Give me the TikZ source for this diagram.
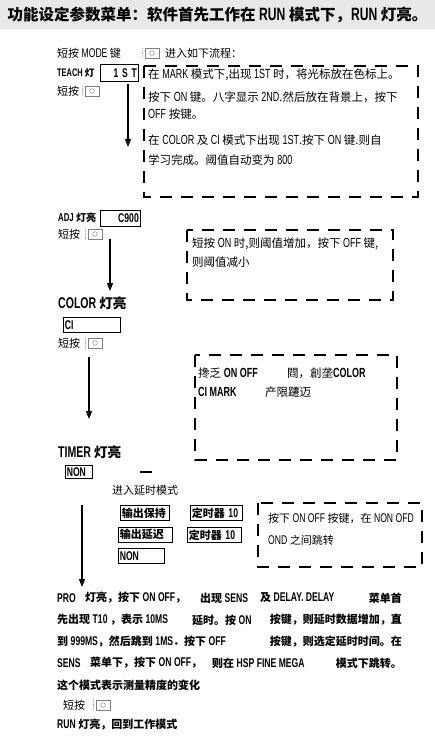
\documentclass[tikz,border=0pt]{standalone}
\usepackage{fontspec}
\setmainfont{Noto Sans CJK SC}
\newfontfamily\narfont{Liberation Sans}[FakeStretch=0.68, Scale=1.15]
\newcommand{\nar}[1]{{\narfont #1}}
\usetikzlibrary{arrows.meta}

\begin{document}
\begin{tikzpicture}[
        x=1pt, y=-1pt,
        txt/.style={anchor=west, inner sep=0pt, font=\fontsize{11.5}{13}\selectfont},
        lbl/.style={anchor=west, inner sep=0pt, font=\fontsize{11}{13}\selectfont},
        par/.style={anchor=west, inner sep=0pt, font=\fontsize{11}{13}\selectfont\bfseries},
        state/.style={anchor=west, inner sep=0pt, font=\fontsize{13.5}{15}\selectfont\bfseries},
        small/.style={anchor=west, inner sep=0pt, font=\fontsize{9.5}{11}\selectfont\bfseries},
        valbox/.style={draw, line width=0.6pt, inner sep=1.5pt, anchor=north west,
            font=\fontsize{11}{12}\selectfont\bfseries},
        dbox/.style={line width=2.6pt, dash pattern=on 12pt off 9pt},
        flow/.style={-{Triangle[length=8pt,width=6pt]}, line width=1.1pt},
        btn/.pic={
            \draw[gray!60, densely dotted, line width=0.8pt] (-3,-5) -- (-3,5);
            \draw[gray, line width=0.5pt] (0,-5) rectangle (14,5);
            \draw[gray, line width=0.4pt] (7,0) circle (2.3);
        },
    ]
    \useasboundingbox (0,0) rectangle (435,751);

    % Title band
    \fill[gray!18] (0,0) rectangle (435,29);
    \node[inner sep=0pt, font=\fontsize{15.5}{17}\selectfont\bfseries] (title) at (217.5,15)
        {功能设定参数菜单：软件首先工作在 \nar{RUN} 模式下，\nar{RUN} 灯亮。};

    % MODE entry
    \node[lbl] (mode) at (57,53) {短按 \nar{MODE} 键};
    \pic at (145,53) {btn};
    \node[lbl] (modego) at (165,53) {进入如下流程：};

    % TEACH
    \node[small] (teach) at (57,73) {\nar{TEACH} 灯};
    \node[valbox, text width=35pt, minimum height=17pt, align=right] (teachval) at (100,64) {\nar{1 S T}};
    \node[lbl] (teachpress) at (57,91) {短按};
    \pic at (85,91) {btn};
    \coordinate (a1s) at (128,84);
    \coordinate (a1e) at (128,147);
    \draw[flow] (a1s) -- (a1e);

    \draw[dbox] (144,66) rectangle (418,197);
    \node[txt] (n1a) at (148,75) {在 \nar{MARK} 模式下,出现 \nar{1ST} 时，将光标放在色标上。};
    \node[txt] (n1b) at (148,97) {按下 \nar{ON} 键。八字显示 \nar{2ND}.然后放在背景上，按下};
    \node[txt] (n1c) at (148,114) {\nar{OFF} 按键。};
    \node[txt] (n1d) at (148,140) {在 \nar{COLOR} 及 \nar{CI} 模式下出现 \nar{1ST}.按下 \nar{ON} 键.则自};
    \node[txt] (n1e) at (148,160) {学习完成。阈值自动变为 \nar{800}};

    % ADJ
    \node[small, font=\fontsize{10}{12}\selectfont\bfseries] (adj) at (58,218) {\nar{ADJ} 灯亮};
    \node[valbox, text width=37pt, minimum height=16pt, align=right] (adjval) at (100,210) {\nar{C900}};
    \node[lbl] (adjpress) at (58,234) {短按};
    \pic at (88,234) {btn};
    \coordinate (a2s) at (110,239);
    \coordinate (a2e) at (110,291);
    \draw[flow] (a2s) -- (a2e);

    \draw[dbox] (187,230) rectangle (393,300);
    \node[txt] (n2a) at (192,244) {短按 \nar{ON} 时,则阈值增加，按下 \nar{OFF} 键,};
    \node[txt] (n2b) at (192,262) {则阈值减小};

    % COLOR
    \node[state] (color) at (58,303) {\nar{COLOR} 灯亮};
    \node[valbox, text width=54pt, minimum height=15pt, align=left] (colorval) at (63,317) {\nar{CI}};
    \node[lbl] (colorpress) at (58,343) {短按};
    \pic at (88,343) {btn};
    \coordinate (a3s) at (89,357);
    \coordinate (a3e) at (89,419);
    \draw[flow] (a3s) -- (a3e);

    \draw[dbox] (195,355) rectangle (397,460);
    \node[txt] (n3a) at (198,373) {搀乏 \textbf{\nar{ON OFF}}};
    \node[txt] (n3b) at (287,373) {閰，創垄\textbf{\nar{COLOR}}};
    \node[txt] (n3c) at (198,392) {\textbf{\nar{CI MARK}}};
    \node[txt] (n3d) at (265,392) {产限躚迈};

    % TIMER
    \node[state] (timer) at (58,452) {\nar{TIMER} 灯亮};
    \node[valbox, text width=24pt, minimum height=13pt, align=left] (timerval) at (65,465) {\nar{NON}};
    \draw[line width=2.5pt] (140,472) -- (152,472);
    \node[lbl] (delay) at (112,490) {进入延时模式};
    \node[valbox, text width=46pt, minimum height=15pt, align=left] (hold) at (120,505) {输出保持};
    \node[valbox, text width=49pt, minimum height=15pt, align=left] (hold10) at (190,505) {定时器 \nar{10}};
    \node[valbox, text width=51pt, minimum height=15pt, align=left] (dly) at (118,527) {输出延迟};
    \node[valbox, text width=51pt, minimum height=15pt, align=left] (dly10) at (187,527) {定时器 \nar{10}};
    \node[valbox, text width=43pt, minimum height=15pt, align=left] (non) at (118,548) {\nar{NON}};
    \coordinate (a4s) at (82,505);
    \coordinate (a4e) at (82,587);
    \draw[flow] (a4s) -- (a4e);

    \draw[dbox] (258,503) rectangle (422,567);
    \node[txt, font=\fontsize{11}{13}\selectfont] (n4a) at (268,518) {按下 \nar{ON OFF} 按键，在 \nar{NON OFD}};
    \node[txt, font=\fontsize{11}{13}\selectfont] (n4b) at (268,540) {\nar{OND} 之间跳转};

    % PRO paragraph
    \node[par] (p1a) at (57,598) {\nar{PRO}};
    \node[par] (p1b) at (85,598) {灯亮，按下 \nar{ON OFF}，};
    \node[par] (p1c) at (200,598) {出现 \nar{SENS}};
    \node[par] (p1d) at (260,598) {及 \nar{DELAY. DELAY}};
    \node[par, anchor=east] (p1e) at (402,598) {菜单首};
    \node[par] (p2a) at (57,620) {先出现 \nar{T10} ，表示 \nar{10MS}};
    \node[par] (p2b) at (192,620) {延时。按 \nar{ON}};
    \node[par, anchor=east] (p2c) at (402,620) {按键，则延时数据增加，直};
    \node[par] (p3a) at (57,642) {到 \nar{999MS}，然后跳到 \nar{1MS}．按下 \nar{OFF}};
    \node[par, anchor=east] (p3b) at (402,642) {按键，则选定延时时间。在};
    \node[par] (p4a) at (57,663) {\nar{SENS}};
    \node[par] (p4b) at (90,663) {菜单下，按下 \nar{ON OFF}，};
    \node[par] (p4c) at (212,663) {则在 \nar{HSP FINE MEGA}};
    \node[par, anchor=east] (p4d) at (402,663) {模式下跳转。};
    \node[par] (p5) at (57,685) {这个模式表示测量精度的变化};
    \node[lbl] (runpress) at (63,705) {短按};
    \pic at (96,705) {btn};
    \node[par] (run) at (57,725) {\nar{RUN} 灯亮，回到工作模式};
\end{tikzpicture}
\end{document}
